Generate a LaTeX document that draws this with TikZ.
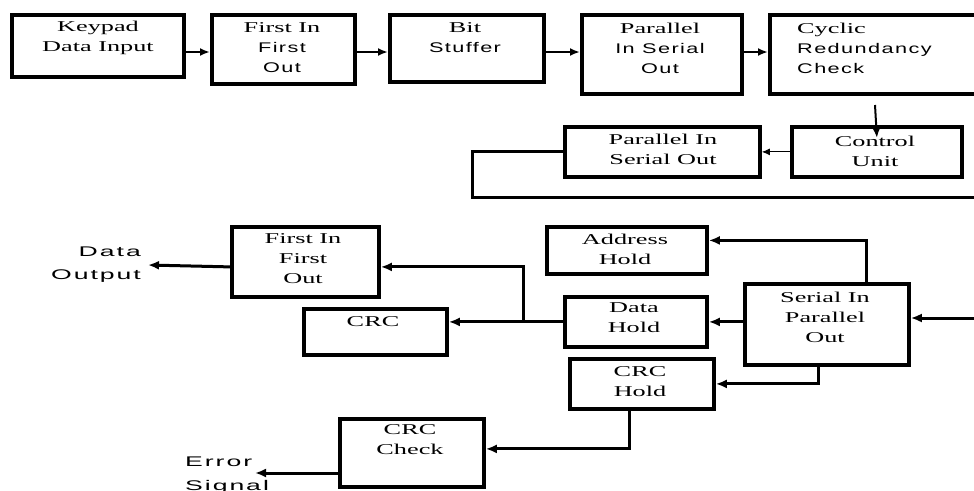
\documentclass[tikz,border=0pt]{standalone}
\usepackage{fontspec}
\newfontfamily\sr{Liberation Serif}[FakeStretch=1.75]
\newfontfamily\ssf{Liberation Sans}[FakeStretch=1.55,LetterSpace=10]
\newfontfamily\ssw{Liberation Sans}[FakeStretch=1.9,LetterSpace=14]
\newcommand\sansl{\ssf\fontsize{14}{20}\selectfont}
\newcommand\sansw{\ssw\fontsize{14}{23}\selectfont}
\newcommand\sanswe{\ssw\fontsize{14}{24}\selectfont}
\usetikzlibrary{arrows.meta}
\begin{document}
\begin{tikzpicture}[x=1pt,y=-1pt,
 box/.style={draw, line width=3.8pt, anchor=north west, inner sep=0pt},
 txt/.style={align=center, inner sep=0pt, font=\sr\fontsize{15}{20}\selectfont},
 ar/.style={line width=2pt, -{Latex[length=10pt,width=8pt]}},
 arb/.style={line width=3pt, -{Latex[length=11pt,width=9pt]}},
 thin/.style={line width=1pt, -{Latex[length=8pt,width=7pt]}}
]
\clip (0,0) rectangle (974,490);
\fill[white] (0,0) rectangle (974,490);
% top row
\node[box, minimum width=172pt, minimum height=62pt] (kp) at (10,13) {};
\node[box, minimum width=143pt, minimum height=69pt] (fifo1) at (210,13) {};
\node[box, minimum width=154pt, minimum height=67pt] (bit) at (388,13) {};
\node[box, minimum width=160pt, minimum height=79pt] (piso1) at (580,13) {};
\node[box, minimum width=240pt, minimum height=79pt] (crc1) at (768,13) {};
\node[txt] (kpT) at (98,38) {Keypad\\Data Input};
\node[txt] (fifo1T) at (282,48) {First In\\{\sansl First}\\{\sansl Out}};
\node[txt] (bitT) at (465,38) {Bit\\{\sansl Stuffer}};
\node[txt] (piso1T) at (660,48) {Parallel\\{\sansl In Serial}\\{\sansl Out}};
\node[txt, align=left, anchor=west] (crc1T) at (797,48) {Cyclic\\{\sansl Redundancy}\\{\sansl Check}};
\coordinate (r1) at (0,52);
\draw[ar] (kp.east |- r1) -- (fifo1.west |- r1);
\draw[ar] (fifo1.east |- r1) -- (bit.west |- r1);
\draw[ar] (bit.east |- r1) -- (piso1.west |- r1);
\draw[ar] (piso1.east |- r1) -- (crc1.west |- r1);
% control row
\coordinate (ctop) at (875,105);
\node[box, minimum width=170pt, minimum height=50pt] (cu) at (790,125) {};
\node[box, minimum width=195pt, minimum height=50pt] (piso2) at (563,125) {};
\node[txt] (cuT) at (875,151) {Control\\Unit};
\node[txt] (piso2T) at (663,149) {Parallel In\\Serial Out};
\draw[ar] (ctop) -- ([yshift=-13pt]cu.north);
\draw[thin] (cu.west) -- (piso2.east);
\coordinate (lp) at (472,197);
\coordinate (lpR) at (990,197);
\draw[line width=3pt] (piso2.west) -| (lp) -- (lpR);
% lower section
\node[box, minimum width=164pt, minimum height=81pt] (sipo) at (743,282) {};
\node[box, minimum width=160pt, minimum height=47pt] (addr) at (545,225) {};
\node[box, minimum width=142pt, minimum height=50pt] (dh) at (563,295) {};
\node[box, minimum width=147pt, minimum height=70pt] (fifo2) at (230,225) {};
\node[box, minimum width=143pt, minimum height=46pt] (crc2) at (302,307) {};
\node[box, minimum width=144pt, minimum height=50pt] (crchold) at (568,357) {};
\node[box, minimum width=144pt, minimum height=68pt] (crccheck) at (338,417) {};
\node[txt] (sipoT) at (825,317) {Serial In\\Parallel\\Out};
\node[txt] (addrT) at (625,249) {Address\\Hold};
\node[txt] (dhT) at (634,318) {Data\\Hold};
\node[txt] (fifo2T) at (303,259) {First In\\First\\Out};
\node[txt] (crc2T) at (373,322) {CRC};
\node[txt] (crcholdT) at (640,382) {CRC\\Hold};
\node[txt] (crccheckT) at (410,440) {CRC\\Check};
\coordinate (inR) at (990,318);
\draw[arb] (inR) -- (inR -| sipo.east);
\draw[arb] ([xshift=40pt]sipo.north) |- ([yshift=10pt]addr.east);
\draw[arb] (sipo.west |- dh.east) -- (dh.east);
\coordinate (jn) at (523,320);
\draw[arb] (dh.west) -- (crc2.east |- dh.west);
\draw[arb] (jn) |- ([yshift=-5pt]fifo2.east);
\coordinate (dout) at (148,265);
\draw[arb] ([yshift=-5pt]fifo2.west) -- (dout);
\node[txt, align=right, anchor=east, font=\sansw] (doutT) at (141,265) {Data\\Output};
\draw[arb] ([xshift=-8pt]sipo.south) |- (crchold.east);
\draw[arb] ([xshift=-12pt]crchold.south) |- ([yshift=4pt]crccheck.east);
\coordinate (eout) at (255,473);
\draw[arb] (crccheck.west |- eout) -- (eout);
\node[txt, align=left, anchor=north west, font=\sanswe] (errT) at (185,457) {Error\\Signal};
\end{tikzpicture}
\end{document}
